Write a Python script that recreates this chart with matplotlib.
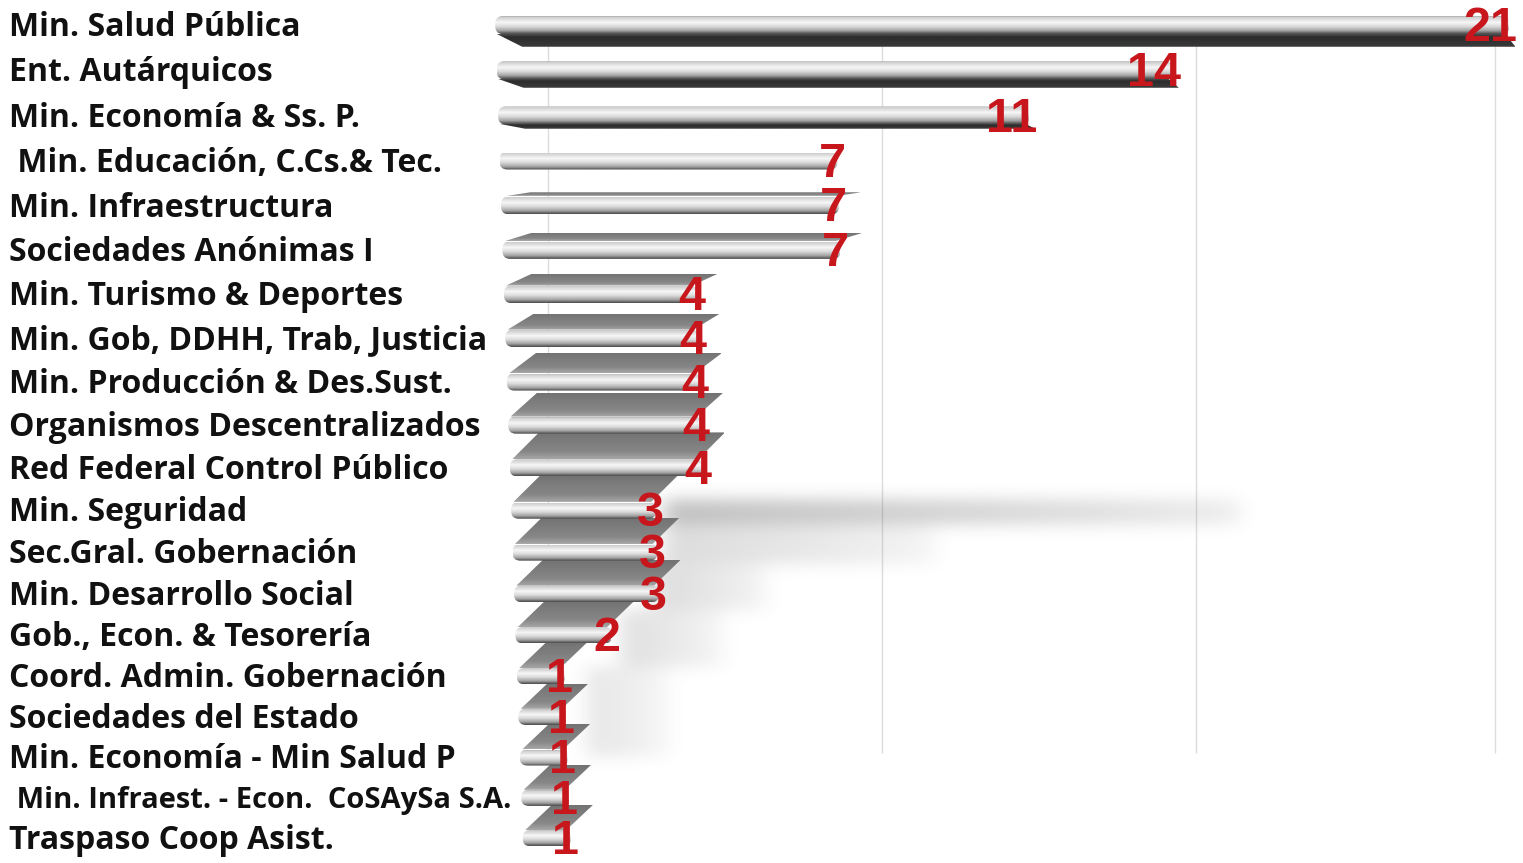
import numpy as np
import matplotlib
matplotlib.use("Agg")
import matplotlib.pyplot as plt
from matplotlib.patches import Polygon, FancyBboxPatch
from matplotlib.colors import LinearSegmentedColormap
from matplotlib.transforms import blended_transform_factory

# ---------------- data ----------------
categories = [
    "Min. Salud Pública",
    "Ent. Autárquicos",
    "Min. Economía & Ss. P.",
    " Min. Educación, C.Cs.& Tec.",
    "Min. Infraestructura",
    "Sociedades Anónimas I",
    "Min. Turismo & Deportes",
    "Min. Gob, DDHH, Trab, Justicia",
    "Min. Producción & Des.Sust.",
    "Organismos Descentralizados",
    "Red Federal Control Público",
    "Min. Seguridad",
    "Sec.Gral. Gobernación",
    "Min. Desarrollo Social",
    "Gob., Econ. & Tesorería",
    "Coord. Admin. Gobernación",
    "Sociedades del Estado",
    "Min. Economía - Min Salud P",
    " Min. Infraest. - Econ.  CoSAySa S.A.",
    "Traspaso Coop Asist.",
]
values = [21, 14, 11, 7, 7, 7, 4, 4, 4, 4, 4, 3, 3, 3, 2, 1, 1, 1, 1, 1]
label_sizes = [23] * 18 + [21] + [23]
grid_values = [1.0, 7.9, 14.4, 20.6]

# ---------------- layout ----------------
W, H = 1523, 863
PX_X, PX_Y = 48.3, 42.8       # pixels per value unit / per row
X0PX, Y0PX = 500, 25
N = len(categories)

fig = plt.figure(figsize=(W / 100, H / 100), dpi=100)
fig.patch.set_facecolor("white")
ax = fig.add_axes([0, 0, 1, 1])
ax.set_axis_off()

# slight perspective bulge of the row axis
BULGE = 0.35
_grid = np.linspace(-5, 25, 6001)


def _fwd(y):
    y = np.asarray(y, dtype=float)
    return y + BULGE * np.sin(np.pi * y / (N - 1))


_grid_t = _fwd(_grid)


def _inv(t):
    return np.interp(np.asarray(t, dtype=float), _grid_t, _grid)


ax.set_yscale("function", functions=(_fwd, _inv))

front_cmap = LinearSegmentedColormap.from_list(
    "front", [(0, "#8a8a8a"), (0.08, "#cdcdcd"), (0.38, "#f6f6f6"),
              (0.6, "#dcdcdc"), (0.85, "#a2a2a2"), (1, "#555555")])
top_cmap = LinearSegmentedColormap.from_list(
    "top", [(0, "#727272"), (0.75, "#878787"), (1, "#a4a4a4")])
under_cmap = LinearSegmentedColormap.from_list(
    "under", [(0, "#5a5a5a"), (0.3, "#2c2c2c"), (1, "#3a3a3a")])
grad = np.linspace(0, 1, 64).reshape(-1, 1)

# ---------------- grid lines ----------------
ax.vlines(grid_values, 0.45, 16.9, colors="#dcdcdc", linewidth=1.0, zorder=0)

# ---------------- soft shadow ----------------
SHADOW = [  # (row_top, row_bot, x_start, x_end, strength)
    (10.75, 11.35, 3.4, 15.3, 0.40),
    (11.35, 12.3, 3.4, 9.0, 0.22),
    (12.3, 13.4, 3.2, 5.5, 0.22),
    (13.4, 14.8, 2.5, 4.6, 0.20),
    (14.8, 17.0, 1.8, 3.5, 0.16),
]
sx = np.linspace(0, 20, 600)
sy = np.linspace(9.5, 19.4, 400)
SX, SY = np.meshgrid(sx, sy)
D = np.zeros_like(SX)
for ya, yb, xa, xb, s in SHADOW:
    m = (SY >= ya) & (SY <= yb) & (SX >= xa) & (SX <= xb)
    fade = np.clip(1 - (SX - xa) / (xb - xa), 0, 1) ** 0.8
    D = np.maximum(D, m * s * (0.25 + 0.75 * fade))


def blur1d(arr, sigma, axis):
    r = int(3 * sigma) + 1
    k = np.exp(-0.5 * (np.arange(-r, r + 1) / sigma) ** 2)
    k /= k.sum()
    return np.apply_along_axis(lambda v: np.convolve(v, k, mode="same"), axis, arr)


D = blur1d(D, 10 / PX_X / (sx[1] - sx[0]), 1)
D = blur1d(D, 8 / PX_Y / (sy[1] - sy[0]), 0)
rgba = np.zeros(D.shape + (4,))
rgba[..., :3] = 0.38
rgba[..., 3] = np.clip(D, 0, 1)
ax.imshow(rgba, extent=(0, 20, 19.4, 9.5), origin="upper", aspect="auto",
          interpolation="bilinear", zorder=1)


def grad_poly(verts, cmap, z):
    poly = Polygon(verts, closed=True, fc="none", ec="none", zorder=z)
    ax.add_patch(poly)
    xs = [p[0] for p in verts]
    ys = [p[1] for p in verts]
    im = ax.imshow(grad, cmap=cmap, vmin=0, vmax=1,
                   extent=(min(xs), max(xs), max(ys), min(ys)),
                   origin="upper", aspect="auto", interpolation="bilinear",
                   zorder=z)
    im.set_clip_path(poly)


# ---------------- bars ----------------
h = 0.40
for i, (cat, v) in enumerate(zip(categories, values)):
    z = 200 - 4 * i
    x0 = -0.1 + 0.03 * i
    y = i
    dy_px = float(np.clip(-12 + 4 * i, -12, 27))
    ddx = 27 / PX_X
    ddy = dy_px / PX_Y
    if dy_px > 0:
        yt = y - h / 2
        grad_poly([(x0 + 0.05, yt), (x0 + v - 0.1, yt), (x0 + v - 0.1 + ddx, yt - ddy),
                   (x0 + ddx + 0.05, yt - ddy)], top_cmap, z)
    elif dy_px < 0:
        yb = y + h / 2
        grad_poly([(x0, yb - 0.02), (x0 + v - 0.1, yb - 0.02),
                   (x0 + v - 0.1 + ddx * 0.4, yb - ddy),
                   (x0 + ddx, yb - ddy)], under_cmap, z)
    # front face with rounded ends
    box = FancyBboxPatch((x0, y - h / 2), v, h,
                         boxstyle="round,pad=0,rounding_size=0.16",
                         mutation_aspect=PX_X / PX_Y,
                         fc="none", ec="none", zorder=z + 1)
    ax.add_patch(box)
    im = ax.imshow(grad, cmap=front_cmap, vmin=0, vmax=1,
                   extent=(x0, x0 + v, y + h / 2, y - h / 2),
                   origin="upper", aspect="auto", interpolation="bilinear",
                   zorder=z + 1)
    im.set_clip_path(box)

    # value label
    ax.text(x0 + v + 0.17, y + 0.08, str(v), ha="right", va="center",
            color="#c8161d", fontsize=35, fontweight="bold",
            family="Liberation Sans", zorder=500)

# ---------------- category labels ----------------
trans = blended_transform_factory(fig.transFigure, ax.transData)
for i, (cat, fs) in enumerate(zip(categories, label_sizes)):
    ax.text(9 / W, i + 0.06, cat, transform=trans, ha="left", va="center",
            fontsize=fs, fontweight="bold", family="Open Sans",
            color="#111111", zorder=500)

ax.set_xlim(-X0PX / PX_X, (W - X0PX) / PX_X)
ax.set_ylim(float(_inv((H - Y0PX) / PX_Y)), float(_inv(-Y0PX / PX_Y)))

fig.savefig("out.png", dpi=100, facecolor="white")
